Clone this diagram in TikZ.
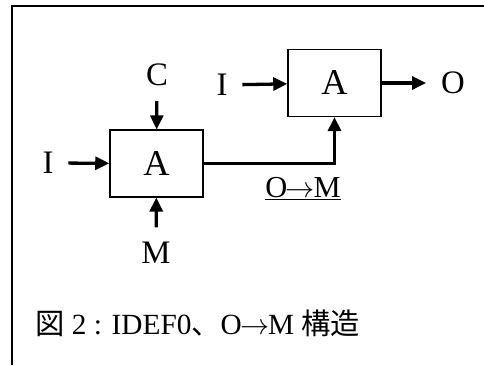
\documentclass[tikz,border=0pt]{standalone}
\usepackage{fontspec}
\setmainfont{Liberation Serif}
\newfontfamily\cjk{Noto Sans CJK JP}
\usepackage{tikz}
\usetikzlibrary{positioning,arrows.meta}
\tikzset{
  flow/.style={-{Triangle[length=12pt,width=11pt]}, line width=2.8pt, draw=black},
  every node/.style={anchor=center}
}
\newcommand{\toarr}{\kern-0.05em$\rightarrow$\kern-0.05em}

\begin{document}
\begin{tikzpicture}[
  x=0.03cm, y=-0.03cm,
  actbox/.style={draw=black, line width=1.2pt, minimum width=2.79cm, minimum height=2.0cm, font=\fontsize{31}{36}\selectfont},
  arrowlbl/.style={inner sep=0pt, outer sep=12.8pt, font=\fontsize{28}{33}\selectfont}
]
\useasboundingbox (0,0) rectangle (484,365);

% page frame
\draw[line width=1.6pt] (12,365) -- (12,6) -- (484,6);

% activity boxes
\node[actbox] (act1) at (156.5,163.5) {A};
\node[actbox] (act2) at (334.5,83) {A};

% labels round the boxes
\node[arrowlbl] (ctl)  at (157,75)  {C};
\node[arrowlbl] (inA)  at (48,163)  {I};
\node[arrowlbl] (mech) at (156,253) {M};
\node[arrowlbl] (inB)  at (222,85)  {I};
\node[arrowlbl] (outB) at (453,83)  {O};
\node[arrowlbl, outer sep=0pt, font=\fontsize{26}{31}\selectfont] (om) at (303,189) {\underline{O\toarr M}};

% arrows
\draw[flow] (ctl) -- (act1);
\draw[flow] (inA) -- (act1);
\draw[flow] (mech) -- (act1);
\draw[flow] (inB) -- (act2);
\draw[flow] (act2) -- (outB);
\draw[flow] (act1.east) -| (act2.south);

% caption
\node[anchor=west, inner sep=0pt, font=\fontsize{25}{29}\selectfont] (cap) at (35,323)
  {{\cjk 図} 2 : IDEF0{\cjk 、}O\toarr M {\cjk 構造}};

\end{tikzpicture}
\end{document}
